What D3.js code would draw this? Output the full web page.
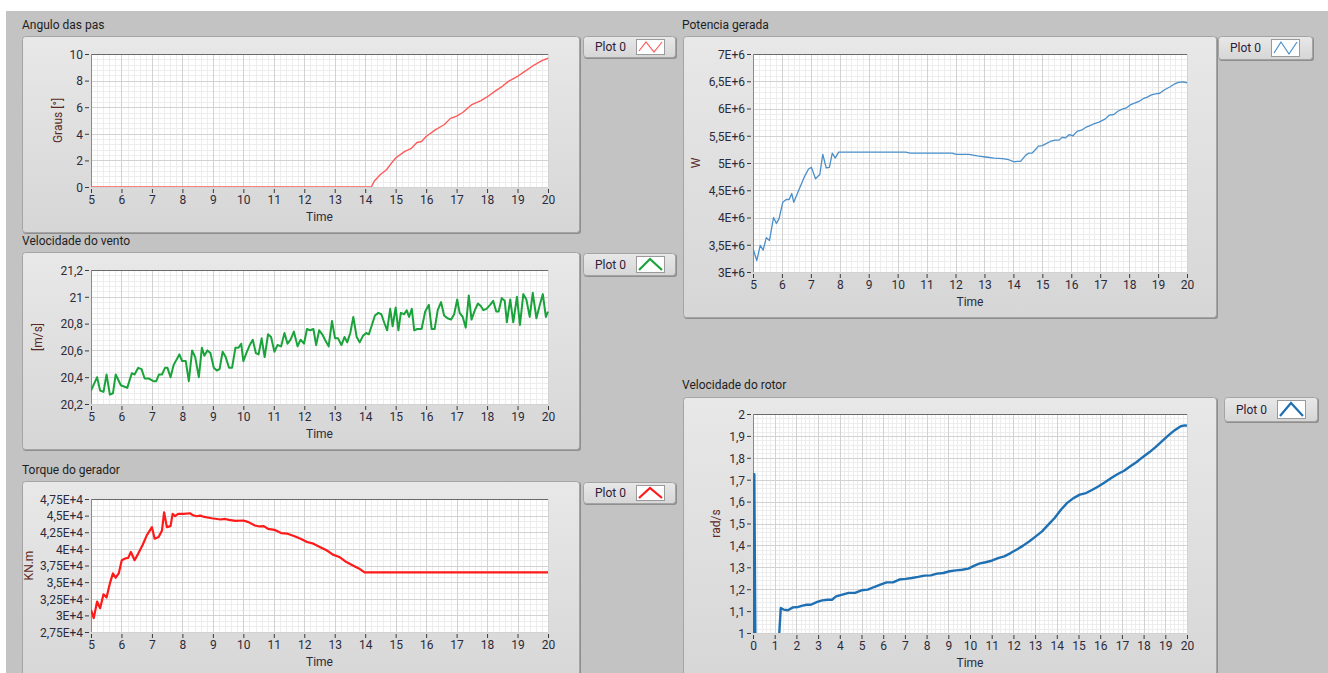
<!DOCTYPE html>
<html lang="pt">
<head>
<meta charset="UTF-8">
<title>Painel turbina</title>
<style>
body { margin: 0; background: #ffffff; }
text { font-family: Roboto, 'Open Sans', sans-serif; }
.tick text { font-size: 12px; fill: #2b2b3b; }
.title { font-size: 12px; fill: #1e1e1e; }
.xname { font-size: 12px; fill: #2b2b3b; }
.yname { font-size: 12px; fill: #5a2a26; }
.legtext { font-size: 12px; fill: #2b2038; }
</style>
</head>
<body>
<div id="vis"></div>
<script src="https://d3js.org/d3.v7.min.js"></script>
<script>

// ---- data ----
const timeTicks5 = [5, 6, 7, 8, 9, 10, 11, 12, 13, 14, 15, 16, 17, 18, 19, 20];
const timeTicks0 = d3.range(0, 21);

const angleTicks = [0, 2, 4, 6, 8, 10];
const angleData = [
  [5, 0], [14.2, 0], [14.3, 0.45], [14.5, 0.94], [14.7, 1.3], [14.85, 1.76], [15, 2.18],
  [15.3, 2.68], [15.5, 2.88], [15.7, 3.35], [15.85, 3.42], [16, 3.8], [16.3, 4.3],
  [16.6, 4.7], [16.8, 5.16], [17, 5.33], [17.2, 5.6], [17.5, 6.2], [17.8, 6.5], [18, 6.77],
  [18.3, 7.27], [18.5, 7.57], [18.7, 7.94], [19, 8.31], [19.2, 8.64], [19.5, 9.1],
  [19.8, 9.5], [20, 9.68]
];

const windTicks = [20.2, 20.4, 20.6, 20.8, 21, 21.2];
const windData = [
  [5.0, 20.30], [5.2, 20.40], [5.3, 20.30], [5.41, 20.29], [5.51, 20.42], [5.62, 20.27],
  [5.72, 20.28], [5.81, 20.42], [5.98, 20.34], [6.19, 20.32], [6.34, 20.43], [6.43, 20.42],
  [6.55, 20.47], [6.66, 20.46], [6.76, 20.39], [6.9, 20.39], [7.05, 20.37], [7.14, 20.37],
  [7.23, 20.42], [7.33, 20.42], [7.43, 20.47], [7.51, 20.47], [7.61, 20.40], [7.71, 20.49],
  [7.9, 20.57], [7.99, 20.52], [8.11, 20.52], [8.21, 20.37], [8.32, 20.60], [8.42, 20.55],
  [8.54, 20.40], [8.64, 20.62], [8.72, 20.56], [8.82, 20.60], [8.92, 20.58], [9.03, 20.47],
  [9.13, 20.45], [9.22, 20.46], [9.32, 20.59], [9.42, 20.55], [9.53, 20.47], [9.63, 20.47],
  [9.74, 20.62], [9.84, 20.62], [9.93, 20.65], [10.0, 20.52], [10.1, 20.58], [10.21, 20.64],
  [10.31, 20.68], [10.41, 20.58], [10.5, 20.57], [10.6, 20.69], [10.7, 20.55], [10.81, 20.72],
  [10.91, 20.70], [11.02, 20.59], [11.12, 20.64], [11.24, 20.63], [11.35, 20.73], [11.45, 20.65],
  [11.55, 20.68], [11.66, 20.74], [11.78, 20.63], [11.88, 20.68], [11.99, 20.65], [12.09, 20.76],
  [12.19, 20.75], [12.3, 20.76], [12.39, 20.64], [12.49, 20.75], [12.59, 20.72], [12.68, 20.68],
  [12.8, 20.63], [12.91, 20.82], [13.01, 20.69], [13.11, 20.69], [13.22, 20.64], [13.32, 20.70],
  [13.41, 20.66], [13.51, 20.73], [13.61, 20.85], [13.72, 20.70], [13.82, 20.66], [13.93, 20.71],
  [14.03, 20.73], [14.12, 20.72], [14.22, 20.79], [14.32, 20.86], [14.43, 20.88], [14.53, 20.87],
  [14.62, 20.81], [14.72, 20.75], [14.82, 20.91], [14.9, 20.78], [15.0, 20.92], [15.09, 20.75],
  [15.17, 20.88], [15.28, 20.87], [15.36, 20.90], [15.44, 20.85], [15.53, 20.91], [15.61, 20.75],
  [15.71, 20.76], [15.85, 20.76], [15.97, 20.89], [16.09, 20.94], [16.18, 20.76], [16.28, 20.76],
  [16.38, 20.90], [16.49, 20.96], [16.59, 20.86], [16.7, 20.84], [16.82, 20.83], [16.92, 20.87],
  [17.02, 20.98], [17.1, 20.88], [17.2, 20.85], [17.3, 20.77], [17.4, 21.01], [17.49, 20.83],
  [17.6, 20.90], [17.7, 20.95], [17.8, 20.93], [17.88, 20.90], [17.98, 20.91], [18.1, 20.94],
  [18.2, 20.97], [18.3, 20.89], [18.38, 20.89], [18.48, 20.99], [18.58, 20.97], [18.65, 20.81],
  [18.76, 20.98], [18.86, 20.81], [18.98, 21.0], [19.08, 20.79], [19.19, 21.02], [19.29, 20.98],
  [19.4, 20.85], [19.5, 21.03], [19.62, 20.84], [19.72, 20.93], [19.83, 21.02], [19.93, 20.85],
  [20.0, 20.89]
];

const torqueTicks = [27500, 30000, 32500, 35000, 37500, 40000, 42500, 45000, 47500];
const torqueData = [
  [5.0, 30830], [5.09, 29590], [5.2, 32080], [5.3, 31080], [5.41, 33170], [5.51, 32680],
  [5.62, 34810], [5.72, 36310], [5.81, 35660], [5.91, 36310], [6.01, 38300], [6.12, 38550],
  [6.22, 38650], [6.31, 39540], [6.43, 38300], [6.55, 39290], [6.69, 40540], [6.83, 42030],
  [7.0, 43270], [7.09, 41530], [7.22, 41780], [7.33, 42780], [7.4, 45510], [7.49, 43270],
  [7.61, 43420], [7.68, 45260], [7.76, 44910], [7.86, 45260], [8.04, 45260], [8.25, 45360],
  [8.35, 45050], [8.47, 44910], [8.58, 45000], [8.68, 44860], [8.96, 44610], [9.25, 44420],
  [9.4, 44500], [9.53, 44370], [9.74, 44220], [10.0, 44270], [10.17, 44020], [10.38, 43520],
  [10.53, 43370], [10.67, 43420], [10.81, 43020], [11.02, 42870], [11.24, 42380], [11.45, 42280],
  [11.66, 41930], [11.88, 41530], [12.09, 41030], [12.3, 40780], [12.51, 40290], [12.73, 39790],
  [12.94, 39140], [13.15, 38790], [13.37, 38050], [13.58, 37550], [13.79, 37060], [13.98, 36460],
  [14.05, 36460], [20, 36460]
];

const powerTicks = [3e6, 3.5e6, 4e6, 4.5e6, 5e6, 5.5e6, 6e6, 6.5e6, 7e6];
const powerData = [
  [5.0, 3.43e6], [5.13, 3.21e6], [5.25, 3.49e6], [5.35, 3.40e6], [5.46, 3.63e6], [5.57, 3.58e6],
  [5.71, 4.00e6], [5.81, 3.89e6], [5.9, 3.98e6], [6.03, 4.28e6], [6.15, 4.33e6], [6.25, 4.33e6],
  [6.34, 4.44e6], [6.41, 4.28e6], [6.58, 4.50e6], [6.77, 4.74e6], [6.92, 4.89e6], [7.02, 4.92e6],
  [7.16, 4.71e6], [7.31, 4.79e6], [7.41, 5.16e6], [7.53, 4.91e6], [7.64, 4.92e6], [7.74, 5.18e6],
  [7.84, 5.09e6], [7.96, 5.20e6], [8.25, 5.20e6], [10.28, 5.20e6], [10.43, 5.18e6], [11.88, 5.18e6],
  [12.03, 5.16e6], [12.46, 5.16e6], [12.75, 5.13e6], [13.04, 5.11e6], [13.33, 5.09e6],
  [13.62, 5.08e6], [13.84, 5.06e6], [14.03, 5.02e6], [14.13, 5.03e6], [14.25, 5.03e6],
  [14.42, 5.14e6], [14.52, 5.18e6], [14.64, 5.18e6], [14.79, 5.26e6], [14.86, 5.31e6],
  [15.0, 5.32e6], [15.15, 5.36e6], [15.29, 5.40e6], [15.44, 5.42e6], [15.58, 5.42e6],
  [15.68, 5.47e6], [15.8, 5.46e6], [15.92, 5.52e6], [16.06, 5.50e6], [16.2, 5.58e6],
  [16.38, 5.61e6], [16.52, 5.66e6], [16.67, 5.69e6], [16.78, 5.72e6], [16.96, 5.75e6],
  [17.18, 5.81e6], [17.32, 5.88e6], [17.47, 5.89e6], [17.61, 5.95e6], [17.76, 5.99e6],
  [17.9, 6.01e6], [18.05, 6.07e6], [18.19, 6.10e6], [18.34, 6.13e6], [18.48, 6.18e6],
  [18.63, 6.21e6], [18.77, 6.25e6], [18.92, 6.27e6], [19.06, 6.28e6], [19.21, 6.34e6],
  [19.42, 6.40e6], [19.57, 6.45e6], [19.71, 6.48e6], [19.86, 6.49e6], [20.0, 6.47e6]
];

const rotorTicks = [1, 1.1, 1.2, 1.3, 1.4, 1.5, 1.6, 1.7, 1.8, 1.9, 2];
const rotorData = [
  [0, 0.9], [0.06, 1.725], [0.14, 0.5], [1.15, 0.9], [1.28, 1.114], [1.41, 1.107], [1.61, 1.104],
  [1.84, 1.117], [2.09, 1.119], [2.28, 1.125], [2.48, 1.129], [2.67, 1.129], [2.96, 1.142],
  [3.19, 1.149], [3.45, 1.152], [3.64, 1.152], [3.83, 1.167], [4.12, 1.175], [4.41, 1.183],
  [4.7, 1.183], [5.0, 1.195], [5.29, 1.198], [5.58, 1.21], [5.87, 1.221], [6.16, 1.231],
  [6.45, 1.231], [6.74, 1.244], [7.03, 1.247], [7.32, 1.251], [7.61, 1.256], [7.9, 1.262],
  [8.19, 1.263], [8.48, 1.271], [8.77, 1.274], [9.06, 1.282], [9.35, 1.286], [9.64, 1.289],
  [9.93, 1.294], [10.13, 1.304], [10.42, 1.317], [10.71, 1.323], [11.0, 1.33], [11.29, 1.342],
  [11.58, 1.35], [11.87, 1.365], [12.16, 1.381], [12.45, 1.399], [12.74, 1.419], [13.03, 1.441],
  [13.32, 1.464], [13.61, 1.495], [13.9, 1.525], [14.19, 1.563], [14.48, 1.594], [14.77, 1.616],
  [15.06, 1.632], [15.35, 1.639], [15.64, 1.654], [15.93, 1.67], [16.22, 1.688], [16.51, 1.708],
  [16.81, 1.726], [17.1, 1.741], [17.39, 1.761], [17.68, 1.781], [17.97, 1.804], [18.26, 1.825],
  [18.55, 1.849], [18.84, 1.875], [19.13, 1.901], [19.42, 1.925], [19.71, 1.944], [19.9, 1.948],
  [20.0, 1.947]
];

// ---- drawing ----
const width = 1328;
const height = 673;

const br = d3.formatLocale({decimal: ",", thousands: ".", grouping: [3], currency: ["", ""]});
const fmtDec = br.format("~f");
const fmtE4 = function(v){ return fmtDec(+(v / 1e4).toFixed(3)) + "E+4"; };
const fmtE6 = function(v){ return fmtDec(+(v / 1e6).toFixed(3)) + "E+6"; };

let svg = d3.select("#vis").append("svg")
    .attr("width", width)
    .attr("height", height);

let defs = svg.append("defs");
let grad = defs.append("linearGradient")
    .attr("id", "frameGrad")
    .attr("x1", 0).attr("y1", 0).attr("x2", 0).attr("y2", 1);
grad.append("stop").attr("offset", "0%").attr("stop-color", "#e8e8e8");
grad.append("stop").attr("offset", "100%").attr("stop-color", "#d6d6d6");

svg.append("rect")
    .attr("x", 6).attr("y", 11)
    .attr("width", width - 6).attr("height", height - 11)
    .attr("fill", "#c3c3c3");

const panels = [
  {title: "Angulo das pas", tx: 22, ty: 29, frame: [22, 36, 558, 197],
   plot: [91, 548, 54, 187], xd: [5, 20], xt: timeTicks5, yd: [0, 10], yt: angleTicks,
   fmt: fmtDec, yname: "Graus [°]", ynx: 62, data: angleData, color: "#ff5a5a", lw: 1.4,
   legend: [583, 36, 93, 22], icon: "zig", minorY: 5},
  {title: "Velocidade do vento", tx: 22, ty: 245, frame: [22, 252, 558, 198],
   plot: [91, 548, 270, 404], xd: [5, 20], xt: timeTicks5, yd: [20.2, 21.2], yt: windTicks,
   fmt: fmtDec, yname: "[m/s]", ynx: 42, data: windData, color: "#1aa33a", lw: 2,
   legend: [583, 253, 93, 23], icon: "caret", minorY: 5},
  {title: "Torque do gerador", tx: 22, ty: 474, frame: [22, 481, 558, 210],
   plot: [91, 548, 499, 632], xd: [5, 20], xt: timeTicks5, yd: [27500, 47500], yt: torqueTicks,
   fmt: fmtE4, yname: "KN.m", ynx: 33, data: torqueData, color: "#ff1a1a", lw: 2.2,
   legend: [583, 482, 93, 22], icon: "caret", minorY: 3},
  {title: "Potencia gerada", tx: 682, ty: 29, frame: [683, 36, 534, 282],
   plot: [753, 1187, 54, 272], xd: [5, 20], xt: timeTicks5, yd: [3e6, 7e6], yt: powerTicks,
   fmt: fmtE6, yname: "W", ynx: 700, data: powerData, color: "#4a8fca", lw: 1.3,
   legend: [1218, 36, 95, 24], icon: "zig", minorY: 5},
  {title: "Velocidade do rotor", tx: 682, ty: 389, frame: [683, 397, 534, 290],
   plot: [753, 1187, 414, 633], xd: [0, 20], xt: timeTicks0, yd: [1, 2], yt: rotorTicks,
   fmt: fmtDec, yname: "rad/s", ynx: 720, data: rotorData, color: "#1f6fb3", lw: 2.4,
   legend: [1224, 397, 94, 25], icon: "caret", minorY: 5}
];

panels.forEach(function(p, i){
  let g = svg.append("g");

  g.append("text")
    .attr("class", "title")
    .attr("x", p.tx).attr("y", p.ty)
    .text(p.title);

  // frame with a soft shadow
  g.append("rect")
    .attr("x", p.frame[0] + 1).attr("y", p.frame[1] + 1)
    .attr("width", p.frame[2]).attr("height", p.frame[3])
    .attr("rx", 3)
    .attr("fill", "#8e8e8e");
  g.append("rect")
    .attr("x", p.frame[0] + 0.5).attr("y", p.frame[1] + 0.5)
    .attr("width", p.frame[2] - 1).attr("height", p.frame[3] - 1)
    .attr("rx", 3)
    .attr("fill", "url(#frameGrad)")
    .attr("stroke", "#a4a4a4");

  let xScale = d3.scaleLinear().domain(p.xd).range([p.plot[0], p.plot[1]]);
  let yScale = d3.scaleLinear().domain(p.yd).range([p.plot[3], p.plot[2]]);

  g.append("rect")
    .attr("x", p.plot[0]).attr("y", p.plot[2])
    .attr("width", p.plot[1] - p.plot[0]).attr("height", p.plot[3] - p.plot[2])
    .attr("fill", "#ffffff");

  // minor grid
  let xMinor = [];
  for (let k = 0; k < p.xt.length - 1; k++) {
    for (let m = 1; m < 5; m++) xMinor.push(p.xt[k] + (p.xt[k + 1] - p.xt[k]) * m / 5);
  }
  let yMinor = [];
  for (let k = 0; k < p.yt.length - 1; k++) {
    for (let m = 1; m < p.minorY; m++) yMinor.push(p.yt[k] + (p.yt[k + 1] - p.yt[k]) * m / p.minorY);
  }
  g.append("g").selectAll("line").data(xMinor).enter().append("line")
    .attr("x1", function(d){ return Math.round(xScale(d)) + 0.5; })
    .attr("x2", function(d){ return Math.round(xScale(d)) + 0.5; })
    .attr("y1", p.plot[2]).attr("y2", p.plot[3])
    .attr("stroke", "#ededed");
  g.append("g").selectAll("line").data(yMinor).enter().append("line")
    .attr("y1", function(d){ return Math.round(yScale(d)) + 0.5; })
    .attr("y2", function(d){ return Math.round(yScale(d)) + 0.5; })
    .attr("x1", p.plot[0]).attr("x2", p.plot[1])
    .attr("stroke", "#ededed");

  // major grid
  g.append("g").selectAll("line").data(p.xt).enter().append("line")
    .attr("x1", function(d){ return Math.round(xScale(d)) + 0.5; })
    .attr("x2", function(d){ return Math.round(xScale(d)) + 0.5; })
    .attr("y1", p.plot[2]).attr("y2", p.plot[3])
    .attr("stroke", "#d2d2d2");
  g.append("g").selectAll("line").data(p.yt).enter().append("line")
    .attr("y1", function(d){ return Math.round(yScale(d)) + 0.5; })
    .attr("y2", function(d){ return Math.round(yScale(d)) + 0.5; })
    .attr("x1", p.plot[0]).attr("x2", p.plot[1])
    .attr("stroke", "#d2d2d2");

  // plot border: dark top and left
  g.append("line")
    .attr("x1", p.plot[0]).attr("x2", p.plot[1])
    .attr("y1", p.plot[2] + 0.5).attr("y2", p.plot[2] + 0.5)
    .attr("stroke", "#6a6a6a");
  g.append("line")
    .attr("x1", p.plot[0] + 0.5).attr("x2", p.plot[0] + 0.5)
    .attr("y1", p.plot[2]).attr("y2", p.plot[3])
    .attr("stroke", "#8a8a8a");

  // axes
  let xAxis = g.append("g")
    .attr("transform", "translate(0," + (p.plot[3] + 2) + ")")
    .call(d3.axisBottom(xScale).tickValues(p.xt).tickFormat(fmtDec)
      .tickSize(4).tickSizeOuter(0).tickPadding(2));
  xAxis.select(".domain").remove();
  xAxis.selectAll(".tick line").attr("stroke", "#3a3a3a");

  let yAxis = g.append("g")
    .attr("transform", "translate(" + (p.plot[0] - 2) + ",0)")
    .call(d3.axisLeft(yScale).tickValues(p.yt).tickFormat(p.fmt)
      .tickSize(4).tickSizeOuter(0).tickPadding(2));
  yAxis.select(".domain").remove();
  yAxis.selectAll(".tick line").attr("stroke", "#3a3a3a");
  yAxis.selectAll(".tick text").attr("dy", "0.36em");

  g.append("text")
    .attr("class", "xname")
    .attr("x", (p.plot[0] + p.plot[1]) / 2)
    .attr("y", p.plot[3] + 34)
    .attr("text-anchor", "middle")
    .text("Time");

  g.append("text")
    .attr("class", "yname")
    .attr("transform", "translate(" + p.ynx + "," + ((p.plot[2] + p.plot[3]) / 2) + ") rotate(-90)")
    .attr("text-anchor", "middle")
    .text(p.yname);

  // series
  defs.append("clipPath").attr("id", "clip" + i)
    .append("rect")
    .attr("x", p.plot[0]).attr("y", p.plot[2])
    .attr("width", p.plot[1] - p.plot[0] + 2).attr("height", p.plot[3] - p.plot[2]);

  let line = d3.line()
    .x(function(d){ return xScale(d[0]); })
    .y(function(d){ return yScale(d[1]); });

  g.append("path")
    .datum(p.data)
    .attr("clip-path", "url(#clip" + i + ")")
    .attr("d", line)
    .attr("fill", "none")
    .attr("stroke", p.color)
    .attr("stroke-width", p.lw)
    .attr("stroke-linejoin", "round");

  // legend
  let L = p.legend;
  g.append("rect")
    .attr("x", L[0] + 1).attr("y", L[1] + 1)
    .attr("width", L[2]).attr("height", L[3])
    .attr("rx", 3).attr("fill", "#8e8e8e");
  g.append("rect")
    .attr("x", L[0] + 0.5).attr("y", L[1] + 0.5)
    .attr("width", L[2] - 1).attr("height", L[3] - 1)
    .attr("rx", 3)
    .attr("fill", "url(#frameGrad)")
    .attr("stroke", "#a4a4a4");
  g.append("text")
    .attr("class", "legtext")
    .attr("x", L[0] + 12).attr("y", L[1] + L[3] / 2 + 4)
    .text("Plot 0");
  let ix = L[0] + 53, iy = L[1] + 3, iw = 28, ih = L[3] - 7;
  g.append("rect")
    .attr("x", ix + 0.5).attr("y", iy + 0.5)
    .attr("width", iw).attr("height", ih)
    .attr("fill", "#ffffff").attr("stroke", "#9a9a9a");
  let pts;
  if (p.icon === "zig") {
    pts = [[ix + 3, iy + ih - 3], [ix + 10, iy + 3], [ix + 18, iy + ih - 2], [ix + 26, iy + 3]];
  } else {
    pts = [[ix + 3, iy + ih - 2], [ix + 14, iy + 3], [ix + 26, iy + ih - 2]];
  }
  g.append("path")
    .attr("d", d3.line()(pts))
    .attr("fill", "none")
    .attr("stroke", p.color)
    .attr("stroke-width", p.icon === "zig" ? 1.2 : 2.2);
});

</script>
</body>
</html>
